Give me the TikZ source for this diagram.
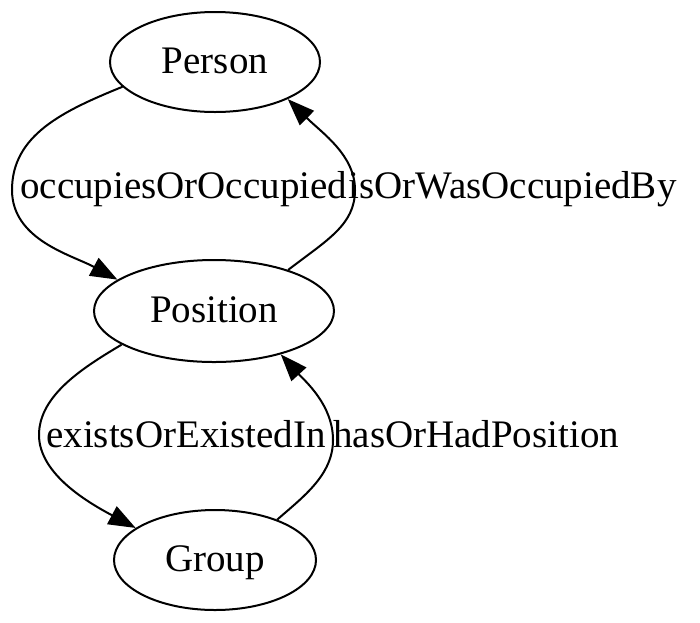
\documentclass[tikz,border=0pt]{standalone}
\usepackage{fontspec}
\setmainfont{Liberation Serif}
\usetikzlibrary{shapes.geometric,arrows.meta}
\begin{document}
\begin{tikzpicture}[x=1pt,y=-1pt,
  every node/.style={font=\fontsize{39}{47}\selectfont},
  gvnode/.style={ellipse,draw,line width=2pt,inner sep=0pt,text height=26pt,text depth=4pt},
  gvedge/.style={line width=2pt,-{Triangle[length=27pt,width=20pt]}},
  gvlabel/.style={anchor=base west,inner sep=0pt}]
\useasboundingbox (0,0) rectangle (700,622);
\node[gvnode,minimum width=210pt,minimum height=100pt] (person) at (215,62) {Person};
\node[gvnode,minimum width=240pt,minimum height=102pt] (position) at (214,311) {Position};
\node[gvnode,minimum width=202pt,minimum height=100pt] (group) at (215,560) {Group};
\coordinate (m1) at (12,190);
\coordinate (m2) at (355,190);
\coordinate (m3) at (39,435);
\coordinate (m4) at (333,440);
\draw[gvedge] (person.195) .. controls (63,111) and (12,135) .. (m1)
  .. controls (12,240) and (72,255) .. (position.162.3);
\draw[gvedge] (position.29) .. controls (327,240) and (355,225) .. (m2)
  .. controls (355,155) and (322,133) .. (person.333.4);
\draw[gvedge] (position.200.5) .. controls (84,367) and (39,395) .. (m3)
  .. controls (39,475) and (91,504) .. (group.158.3);
\draw[gvedge] (group.33) .. controls (303,497) and (333,475) .. (m4)
  .. controls (333,405) and (305,381) .. (position.327.5);
\node[gvlabel] (l1) at (20,198) {occupiesOrOccupied};
\node[gvlabel] (l2) at (348,198) {isOrWasOccupiedBy};
\node[gvlabel] (l3) at (46,447) {existsOrExistedIn};
\node[gvlabel] (l4) at (333,447) {hasOrHadPosition};
\end{tikzpicture}
\end{document}
